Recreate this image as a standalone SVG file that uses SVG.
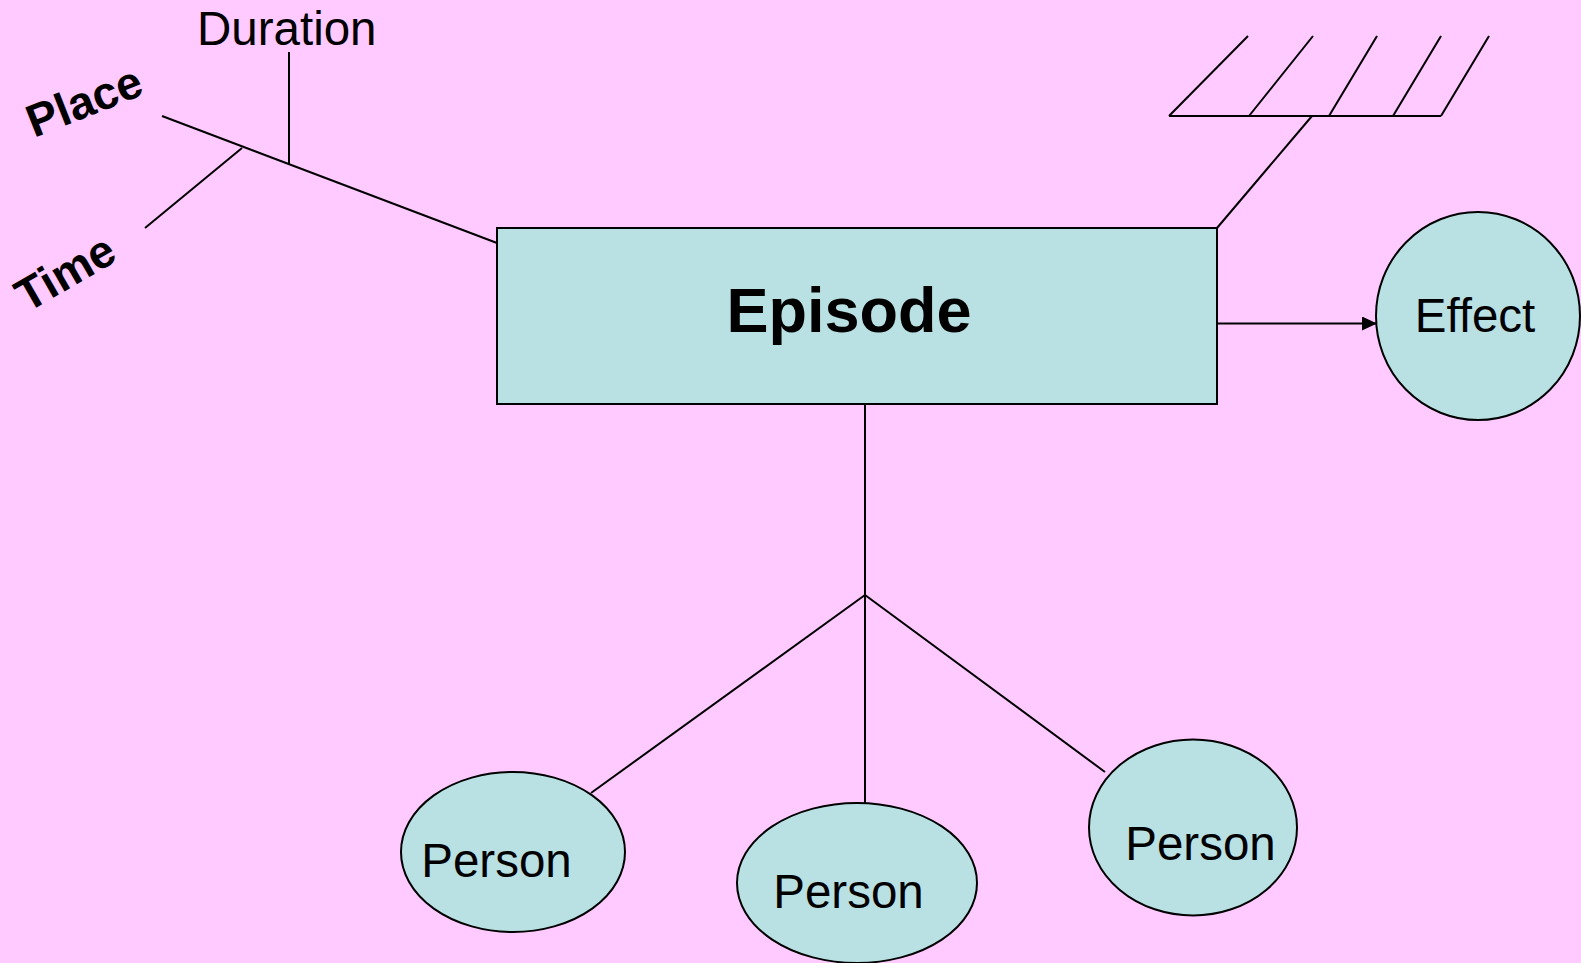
<svg xmlns="http://www.w3.org/2000/svg" width="1581" height="963" viewBox="0 0 1581 963">
<defs>
<style>
.ln{stroke:#000;stroke-width:2;fill:none}
.sh{fill:#B9E0E2;stroke:#000;stroke-width:2}
.t{font-family:"Liberation Sans",Arial,sans-serif;fill:#000}
.b{font-weight:bold}
</style>
<marker id="arr" viewBox="0 0 15 14" refX="15" refY="7" markerWidth="15" markerHeight="14" markerUnits="userSpaceOnUse" orient="auto">
<path d="M0,0 L15,7 L0,14 z" fill="#000"/>
</marker>
</defs>
<rect x="0" y="0" width="1581" height="963" fill="#FFCAFF"/>
<g id="connectors">
<line class="ln" x1="162" y1="116" x2="497" y2="243"/>
<line class="ln" x1="289" y1="52" x2="289" y2="164"/>
<line class="ln" x1="145" y1="228" x2="242" y2="148"/>
<line class="ln" x1="1312" y1="116" x2="1217" y2="228"/>
<line class="ln" x1="1217" y1="323.5" x2="1377" y2="323.5" marker-end="url(#arr)"/>
<line class="ln" x1="865" y1="404" x2="865" y2="803"/>
<line class="ln" x1="865" y1="595" x2="591" y2="793"/>
<line class="ln" x1="865" y1="595" x2="1105" y2="772"/>
</g>
<g id="hatch">
<line class="ln" x1="1169" y1="116" x2="1441" y2="116"/>
<line class="ln" x1="1169" y1="116" x2="1248" y2="36"/>
<line class="ln" x1="1249" y1="116" x2="1313" y2="36"/>
<line class="ln" x1="1329" y1="116" x2="1377" y2="36"/>
<line class="ln" x1="1393" y1="116" x2="1441" y2="36"/>
<line class="ln" x1="1441" y1="116" x2="1489" y2="36"/>
</g>
<g id="labels">
<text class="t" x="197" y="45" font-size="47.5">Duration</text>
<text class="t b" x="0" y="0" font-size="46" transform="translate(34,138) rotate(-21.5)">Place</text>
<text class="t b" x="0" y="0" font-size="46" transform="translate(27,313) rotate(-30)">Time</text>
</g>
<g id="episode">
<rect class="sh" x="497" y="228" width="720" height="176"/>
<text class="t b" x="849" y="332" font-size="63" text-anchor="middle">Episode</text>
</g>
<g id="effect">
<ellipse class="sh" cx="1478" cy="316" rx="102" ry="104"/>
<text class="t" x="1475" y="332" font-size="47.5" text-anchor="middle">Effect</text>
</g>
<g id="person1">
<ellipse class="sh" cx="513" cy="852" rx="112" ry="80"/>
<text class="t" x="496.5" y="877" font-size="47.5" text-anchor="middle">Person</text>
</g>
<g id="person2">
<ellipse class="sh" cx="857" cy="883" rx="120" ry="80"/>
<text class="t" x="848.5" y="908" font-size="47.5" text-anchor="middle">Person</text>
</g>
<g id="person3">
<ellipse class="sh" cx="1193" cy="827.5" rx="104" ry="88"/>
<text class="t" x="1200.5" y="860" font-size="47.5" text-anchor="middle">Person</text>
</g>
</svg>
